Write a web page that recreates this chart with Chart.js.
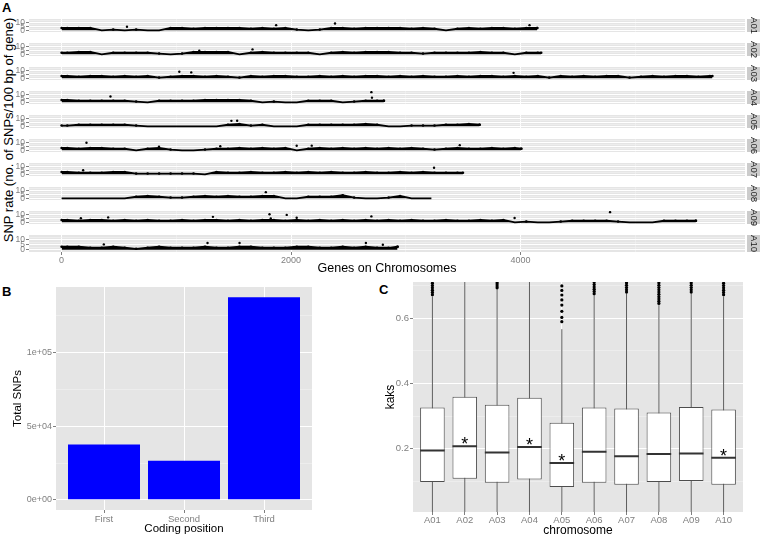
<!DOCTYPE html>
<html><head><meta charset="utf-8">
<script src="https://cdn.jsdelivr.net/npm/chart.js"></script>
<style>
html,body{margin:0;padding:0;background:#fff;}
body{width:760px;height:537px;position:relative;overflow:hidden;font-family:"Liberation Sans",Arial,Helvetica,sans-serif;}
canvas{position:absolute;}
.tag{position:absolute;font-weight:bold;font-size:13px;line-height:13px;color:#000;}
.ytitle{position:absolute;transform:translate(-50%,-50%) rotate(-90deg);white-space:nowrap;font-size:13px;line-height:13px;color:#000;}
</style></head><body>
<div class="tag" style="left:2px;top:1px">A</div>
<div class="tag" style="left:2px;top:285px">B</div>
<div class="tag" style="left:379px;top:283px">C</div>
<div class="ytitle" style="left:8px;top:130px">SNP rate (no. of SNPs/100 bp of gene)</div>
<canvas id="cB" width="372" height="267" style="left:0;top:270px"></canvas>
<canvas id="cC" width="385" height="267" style="left:375px;top:270px"></canvas>
<script>
// ---------------- Panel A data ----------------
const chromosomes = ['A01','A02','A03','A04','A05','A06','A07','A08','A09','A10'];
const geneCounts = [4145,4180,5672,2809,3643,4006,3498,3223,5528,2928];
const binGenes = 100; // each band value covers 100 genes
const snpBandA01 = [3,3,3,0,1,0,1,0,0,3, 3,2,3,3,3,3,2,3,2,3, 1,0,1,3,3,2,3,3,3,3, 2,3,2,0,2,3,2,3,3,2, 3,3];
const snpBandA02 = [2,3,3,0,2,2,2,2,1,0, 1,3,3,3,3,0,2,3,2,2, 2,2,0,2,3,2,3,3,3,2, 2,1,2,2,2,2,3,2,2,0, 2,2];
const snpBandA03 = [3,2,3,3,2,3,2,3,1,2, 3,3,2,3,2,1,3,2,3,3, 2,2,3,2,3,2,3,3,2,3, 2,3,2,2,3,2,3,3,2,3, 2,3,1,3,2,3,2,3,3,1, 2,3,2,3,3,2,3];
const snpBandA04 = [3,2,2,2,2,2,1,0,2,2, 2,2,3,3,3,3,2,0,1,0, 0,2,2,2,0,1,2,2,2];
const snpBandA05 = [1,2,2,2,2,2,1,0,0,0, 0,0,0,0,2,3,1,2,0,0, 0,2,2,2,2,2,3,2,0,0, 1,1,1,2,2,3,2];
const snpBandA06 = [3,2,3,3,2,2,0,2,3,1, 0,0,1,2,2,3,2,3,2,3, 0,2,3,2,3,2,3,2,3,2, 3,2,1,2,3,2,2,3,2,3, 2];
const snpBandA07 = [3,2,2,2,3,3,1,1,1,1, 1,1,0,3,2,2,3,2,2,3, 2,3,2,3,2,2,3,2,2,3, 2,3,2,2,2];
const snpBandA08 = [0,0,0,0,0,0,2,3,2,1, 1,2,3,2,3,2,2,3,3,0, 0,2,2,2,4,1,0,0,1,3, 0,0,0];
const snpBandA09 = [3,2,3,3,2,3,2,3,2,2, 3,2,3,3,2,3,2,3,3,2, 3,2,3,2,3,2,3,2,3,2, 3,2,2,3,2,2,3,2,3,0, 1,0,0,1,2,2,2,2,1,0, 0,0,2,2,2,2];
const snpBandA10 = [3,3,2,2,3,2,1,2,3,2, 2,2,3,2,2,3,3,2,2,2, 3,3,2,2,3,2,3,2,2,3];
const snpOutA01 = [[570,4.5],[1870,6.6],[2383,8.7],[4078,6.6]];
const snpOutA02 = [[1200,4.5],[1664,6.3]];
const snpOutA03 = [[1026,8.4],[1130,7.6],[3939,7]];
const snpOutA04 = [[426,7.4],[2700,13],[2705,6]];
const snpOutA05 = [[1480,7],[1530,7.2]];
const snpOutA06 = [[217,9.7],[849,4.7],[1383,5.3],[2049,5.8],[2180,6],[3470,6.6]];
const snpOutA07 = [[188,5.3],[3246,8.4]];
const snpOutA08 = [[1780,7.9]];
const snpOutA09 = [[168,5.3],[406,6.3],[1319,7],[1812,10.3],[1823,5],[1962,9.5],[2049,5.8],[2700,7.6],[3948,5.5],[4780,13]];
const snpOutA10 = [[368,5.3],[1272,6.6],[1551,6.6],[2652,6.6],[2800,5]];
const snpBands = [snpBandA01,snpBandA02,snpBandA03,snpBandA04,snpBandA05,snpBandA06,snpBandA07,snpBandA08,snpBandA09,snpBandA10];
const snpOutliers = [snpOutA01,snpOutA02,snpOutA03,snpOutA04,snpOutA05,snpOutA06,snpOutA07,snpOutA08,snpOutA09,snpOutA10];
const aXTicks = [0,1000,2000,3000,4000,5000];
const aXMajor = [0,2000,4000];
const aYTicks = [0,2.5,5,7.5,10,12.5];
const aYMajor = [0,5,10];

// ---------------- Panel B data ----------------
const codingPositions = ['First','Second','Third'];
const totalSNPs = [37500, 26600, 137600];
const bYTicks = [0,25000,50000,75000,100000,125000];
const bYMajor = [0,50000,100000];
const bYLabels = ['0e+00','5e+04','1e+05'];

// ---------------- Panel C data ----------------
const kaksLower  = [0.0,0.0,0.0,0.0,0.0,0.0,0.0,0.0,0.0,0.0];
const kaksQ1     = [0.097,0.107,0.095,0.105,0.082,0.095,0.089,0.097,0.100,0.089];
const kaksMedian = [0.194,0.207,0.188,0.205,0.156,0.190,0.176,0.183,0.185,0.172];
const kaksQ3     = [0.326,0.359,0.335,0.356,0.279,0.326,0.323,0.311,0.328,0.320];
const kaksUpper  = [0.668,0.74,0.690,0.74,0.567,0.672,0.677,0.641,0.677,0.668];
const kaksOutliers = [
  [0.673,0.680,0.687,0.694,0.701,0.708],
  [],
  [0.694,0.700,0.706,0.711],
  [],
  [0.590,0.603,0.622,0.641,0.657,0.672,0.686,0.700],
  [0.676,0.683,0.690,0.697,0.704,0.711],
  [0.681,0.688,0.695,0.702,0.709],
  [0.646,0.653,0.660,0.667,0.674,0.681,0.688,0.695,0.702,0.709],
  [0.681,0.688,0.695,0.702,0.709],
  [0.673,0.680,0.687,0.694,0.701,0.708]
];
const sigChromosomes = ['A02','A04','A05','A10'];
const cYTicks = [0.1,0.2,0.3,0.4,0.5,0.6,0.7];
const cYMajor = [0.2,0.4,0.6];

// ---------------- styling helpers ----------------
const FONT = "'Liberation Sans', Arial, Helvetica, sans-serif";
Chart.defaults.font.family = FONT;
const AXIS_TXT = '#7f7f7f';
const PANEL_BG = '#e5e5e5';
const MINOR_GRID = '#f2f2f2';

const bgPlugin = {id:'panelBg', beforeDraw(chart){
  const {ctx, chartArea:a} = chart;
  ctx.save(); ctx.fillStyle = PANEL_BG;
  ctx.fillRect(a.left, a.top, a.right-a.left, a.bottom-a.top); ctx.restore();
}};
const stripPlugin = {id:'strip', afterDraw(chart, args, opts){
  const {ctx, chartArea:a} = chart;
  const x0 = a.right + 2, w = chart.width - x0;
  ctx.save();
  ctx.fillStyle = '#cccccc';
  ctx.fillRect(x0, a.top, w, a.bottom - a.top);
  ctx.translate(x0 + w/2 + 0.5, (a.top + a.bottom)/2);
  ctx.rotate(Math.PI/2);
  ctx.fillStyle = '#1a1a1a';
  ctx.font = '9.5px ' + FONT;
  ctx.textAlign = 'center'; ctx.textBaseline = 'middle';
  ctx.fillText(opts.label, 0, 0);
  ctx.restore();
}};
function grid(isMajor, drawTicks){
  return {
    color: c => isMajor(c.tick.value) ? '#ffffff' : MINOR_GRID,
    lineWidth: c => isMajor(c.tick.value) ? 1 : 0.6,
    tickColor: c => isMajor(c.tick.value) ? AXIS_TXT : 'rgba(0,0,0,0)',
    tickLength: 3, drawTicks: drawTicks !== false, offset: false
  };
}
function fixAxis(size, horizontal){
  return s => {
    if (horizontal) s.height = size; else s.width = size;
    s.paddingTop = 0; s.paddingBottom = 0; s.paddingLeft = 0; s.paddingRight = 0;
  };
}
const baseOpts = {responsive:false, animation:false, devicePixelRatio:1, events:[]};

// ---------------- Panel A: one chart per chromosome ----------------
const rowTop0 = 15, rowPitch = 24, rowH = 21, axisH = 26;
chromosomes.forEach((chr, r) => {
  const isLast = r === chromosomes.length - 1;
  const cv = document.createElement('canvas');
  cv.width = 760; cv.height = rowH + (isLast ? axisH : 0);
  cv.style.left = '0px'; cv.style.top = (rowTop0 + r*rowPitch) + 'px';
  document.body.appendChild(cv);
  const band = snpBands[r], n = geneCounts[r];
  const bandPts = [{x:0, y:band[0]}];
  band.forEach((v, i) => bandPts.push({x: Math.min(i*binGenes + binGenes/2, n), y: v}));
  bandPts.push({x:n, y:band[band.length-1]});
  new Chart(cv, {
    type:'line',
    data:{datasets:[
      {type:'scatter', data: snpOutliers[r].map(([x,y]) => ({x, y})), pointRadius:1.2,
       backgroundColor:'#000', borderWidth:0, order:0},
      {data: bandPts, borderColor:'#000', backgroundColor:'#000', borderWidth:1.8,
       pointRadius: c => (c.raw && c.raw.y > 0) ? 1.3 : 0, pointBackgroundColor:'#000', pointBorderWidth:0,
       fill:'origin', tension:0, order:1}
    ]},
    options:{...baseOpts,
      layout:{padding:{left:0, right:15, top:0, bottom:0}},
      plugins:{legend:{display:false}, tooltip:{enabled:false}, strip:{label:chr}},
      scales:{
        x:{type:'linear', min:-284, max:5956,
           afterBuildTicks: s => { s.ticks = aXTicks.map(v => ({value:v})); },
           afterFit: fixAxis(isLast ? axisH : 0, true),
           ticks:{display:isLast, autoSkip:false, maxRotation:0, padding:0, color:AXIS_TXT,
                  font:{size:9}, callback: v => aXMajor.includes(v) ? String(v) : ''},
           grid: grid(v => aXMajor.includes(v), isLast),
           border:{display:false},
           title:{display:isLast, text:'Genes on Chromosomes', color:'#000',
                  font:{size:12.5, lineHeight:1}, padding:{top:0, bottom:3}}},
        y:{min:-2.14, max:14.5,
           afterBuildTicks: s => { s.ticks = aYTicks.map(v => ({value:v})); },
           afterFit: fixAxis(29, false),
           ticks:{autoSkip:false, padding:1, color:AXIS_TXT, font:{size:8.5, lineHeight:1},
                  callback: v => aYMajor.includes(v) ? String(v) : ''},
           grid: grid(v => aYMajor.includes(v)),
           border:{display:false}}
      }
    },
    plugins:[bgPlugin, stripPlugin]
  });
});

// ---------------- Panel B ----------------
new Chart(document.getElementById('cB'), {
  type:'bar',
  data:{datasets:[{data: codingPositions.map((c,i) => ({x:i+1, y: totalSNPs[i]})),
    backgroundColor:'#0000ff', borderWidth:0, barPercentage:0.9, categoryPercentage:1}]},
  options:{...baseOpts,
    layout:{padding:{left:0, right:60, top:17, bottom:0}},
    plugins:{legend:{display:false}, tooltip:{enabled:false}},
    scales:{
      x:{type:'linear', min:0.4, max:3.6, offset:false,
         afterBuildTicks: s => { s.ticks = codingPositions.map((c,i) => ({value:i+1})); },
         afterFit: fixAxis(27, true),
         ticks:{autoSkip:false, maxRotation:0, padding:1, color:AXIS_TXT, font:{size:9.5},
                callback: v => codingPositions[v-1]},
         grid: grid(() => true),
         border:{display:false},
         title:{display:true, text:'Coding position', color:'#000',
                font:{size:11.5, lineHeight:1}, padding:{top:0, bottom:2}}},
      y:{min:-6880, max:144480,
         afterBuildTicks: s => { s.ticks = bYTicks.map(v => ({value:v})); },
         afterFit: fixAxis(56, false),
         ticks:{autoSkip:false, padding:1, color:AXIS_TXT, font:{size:9},
                callback: v => bYMajor.includes(v) ? bYLabels[bYMajor.indexOf(v)] : ''},
         grid: grid(v => bYMajor.includes(v)),
         border:{display:false},
         title:{display:true, text:'Total SNPs', color:'#000',
                font:{size:11.5, lineHeight:1}, padding:{top:12, bottom:0}}}
    }
  },
  plugins:[bgPlugin]
});

// ---------------- Panel C ----------------
const starPlugin = {id:'stars', afterDatasetsDraw(chart){
  const {ctx, scales:{x, y}} = chart;
  ctx.save();
  ctx.fillStyle = '#000'; ctx.font = '18px ' + FONT;
  ctx.textAlign = 'center'; ctx.textBaseline = 'alphabetic';
  sigChromosomes.forEach(c => {
    const i = chromosomes.indexOf(c);
    ctx.fillText('*', x.getPixelForValue(i+1), y.getPixelForValue(kaksMedian[i]) + 4);
  });
  ctx.restore();
}};
const boxHalf = 0.38;
new Chart(document.getElementById('cC'), {
  type:'bar',
  data:{datasets:[
    {type:'scatter', data: kaksOutliers.flatMap((arr,i) => arr.map(v => ({x:i+1, y:v}))),
     pointRadius:1.6, backgroundColor:'#000', borderWidth:0, order:0},
    {type:'line', data: chromosomes.flatMap((c,i) => [{x:i+1-boxHalf, y:kaksMedian[i]},{x:i+1+boxHalf, y:kaksMedian[i]},{x:i+1, y:null}]),
     borderColor:'#333333', borderWidth:2, pointRadius:0, spanGaps:false, order:1},
    {type:'bar', data: chromosomes.map((c,i) => ({x:i+1, y:[kaksQ1[i], kaksQ3[i]]})),
     backgroundColor:'#ffffff', borderColor:'#4d4d4d', borderWidth:1, borderSkipped:false,
     barPercentage:0.76, categoryPercentage:1, order:2},
    {type:'line', data: chromosomes.flatMap((c,i) => [{x:i+1, y:kaksLower[i]},{x:i+1, y:kaksUpper[i]},{x:i+1, y:null}]),
     borderColor:'#5e5e5e', borderWidth:1, pointRadius:0, spanGaps:false, order:3}
  ]},
  options:{...baseOpts,
    layout:{padding:{left:0, right:17, top:12, bottom:0}},
    plugins:{legend:{display:false}, tooltip:{enabled:false}},
    scales:{
      x:{type:'linear', min:0.4, max:10.6, offset:false,
         afterBuildTicks: s => { s.ticks = chromosomes.map((c,i) => ({value:i+1})); },
         afterFit: fixAxis(25, true),
         ticks:{autoSkip:false, maxRotation:0, padding:0, color:AXIS_TXT, font:{size:9.5},
                callback: v => chromosomes[v-1]},
         grid: grid(() => true),
         border:{display:false},
         title:{display:true, text:'chromosome', color:'#000',
                font:{size:12, lineHeight:1}, padding:{top:0, bottom:0}}},
      y:{min:0.005, max:0.712,
         afterBuildTicks: s => { s.ticks = cYTicks.map(v => ({value:v})); },
         afterFit: fixAxis(38, false),
         ticks:{autoSkip:false, padding:1, color:AXIS_TXT, font:{size:9.5},
                callback: v => cYMajor.includes(v) ? v.toFixed(1) : ''},
         grid: grid(v => cYMajor.includes(v)),
         border:{display:false},
         title:{display:true, text:'kaks', color:'#000',
                font:{size:12, lineHeight:1}, padding:{top:10, bottom:0}}}
    }
  },
  plugins:[bgPlugin, starPlugin]
});
</script>
</body></html>
